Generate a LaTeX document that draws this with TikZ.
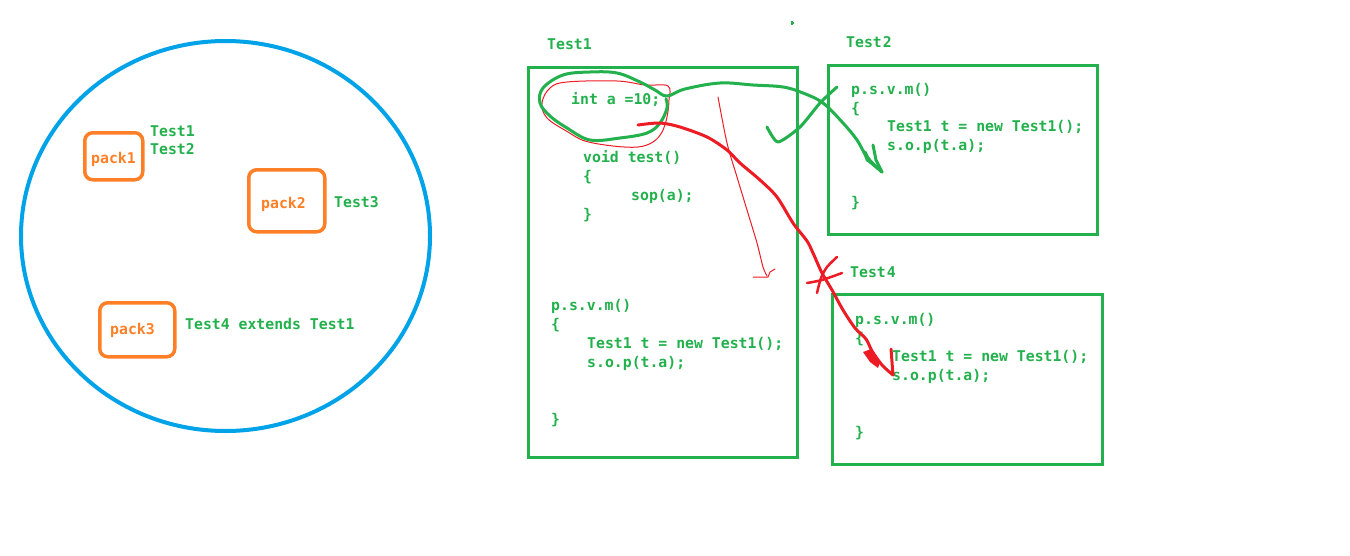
\documentclass[tikz,border=0pt]{standalone}
\usepackage{fontspec}
\newfontfamily\codefont{DejaVu Sans Mono Bold}
\usetikzlibrary{shapes.geometric}
\definecolor{pgreen}{RGB}{34,177,76}
\definecolor{porange}{RGB}{255,127,39}
\definecolor{pblue}{RGB}{0,162,232}
\definecolor{pred}{RGB}{237,28,36}
\tikzset{
  code/.style={font=\codefont\fontsize{14.8}{19}\selectfont, text=pgreen, anchor=base west, inner sep=0pt},
  pk/.style={code, text=porange},
  gbox/.style={draw=pgreen, line width=3pt, inner sep=0pt, anchor=north west},
  obox/.style={draw=porange, line width=3.5pt, rounded corners=8pt, inner sep=0pt, anchor=north west},
  pen/.style={line cap=round, line join=round},
  gpen/.style={pen, draw=pgreen, line width=3pt},
  rpen/.style={pen, draw=pred, line width=3pt},
  thinred/.style={pen, draw=pred, line width=1pt},
}
\begin{document}
\begin{tikzpicture}[x=1pt,y=-1pt]
\useasboundingbox[fill=white] (0,0) rectangle (1350,555);

% ---- left: circle with packages ----
\node (world) [draw=pblue, line width=4pt, ellipse, inner sep=0pt, minimum width=409pt, minimum height=390pt] at (225.5,236) {};
\node (pack1box) [obox, minimum width=58pt, minimum height=47pt] at (83,131) {};
\node (pack2box) [obox, minimum width=76pt, minimum height=62pt] at (247,168) {};
\node (pack3box) [obox, minimum width=75pt, minimum height=54pt] at (98,301) {};
\node (pack1) [pk] at (91,163) {pack1};
\node (pack2) [pk] at (261,208) {pack2};
\node (pack3) [pk] at (110,334) {pack3};
\node (l1) [code] at (150,136) {Test1};
\node (l2) [code] at (150,154) {Test2};
\node (l3) [code] at (334,207) {Test3};
\node (l4) [code] at (185,329) {Test4 extends Test1};

% ---- Test1 ----
\node (box1) [gbox, minimum width=269pt, minimum height=390pt] at (527,66) {};
\node (t1) [code] at (547,49) {Test1};
\node (inta) [code] at (571,104) {int a =10;};
\node (void) [code] at (583,162) {void test()};
\node (b1o) [code] at (583,181) {\{};
\node (sop) [code] at (631,200) {sop(a);};
\node (b1c) [code] at (583,219) {\}};
\node (m1) [code] at (551,310) {p.s.v.m()};
\node (m1o) [code] at (551,329) {\{};
\node (m1a) [code] at (587,348) {Test1 t = new Test1();};
\node (m1b) [code] at (587,367) {s.o.p(t.a);};
\node (m1c) [code] at (551,424) {\}};

% ---- Test2 ----
\node (box2) [gbox, minimum width=269pt, minimum height=169pt] at (827,64) {};
\node (t2) [code] at (846,47) {Test\kern1pt2};
\node (m2) [code] at (851,94) {p.s.v.m()};
\node (m2o) [code] at (851,113) {\{};
\node (m2a) [code] at (887,131) {Test1 t = new Test1();};
\node (m2b) [code] at (887,150) {s.o.p(t.a);};
\node (m2c) [code] at (851,207) {\}};

% ---- Test4 ----
\node (box4) [gbox, minimum width=270pt, minimum height=170pt] at (831,293) {};
\node (t4) [code] at (850,277) {Test\kern1pt4};
\node (m4) [code] at (855,324) {p.s.v.m()};
\node (m4o) [code] at (855,343) {\{};
\node (m4a) [code] at (892,361) {Test1 t = new Test1();};
\node (m4b) [code] at (892,380) {s.o.p(t.a);};
\node (m4c) [code] at (855,437) {\}};

% small dot at top
\fill[pgreen] (790.5,22) rectangle (793.5,24);
\fill[pgreen] (791,21) rectangle (793,25);

% ---- hand-drawn marks ----
\coordinate (gstart) at (666,99);
\coordinate (gend) at (882,172);
\coordinate (rstart) at (638,125);
\coordinate (rend) at (893,375);

% thin red loop around int a
\draw[thinred] plot[smooth cycle, tension=0.6] coordinates {(550,88) (567,82) (617,81) (645,85) (668,86) (669,100) (667,117) (662,132) (653,142) (638,147) (613,146) (585,141) (568,132) (547,118) (542,103)};

% green loop + arrow to Test2
\draw[gpen] plot[smooth, tension=0.6] coordinates {(gstart) (667,108) (660,123) (647,133) (620,138) (590,140) (567,128) (550,116) (540,103) (543,88) (563,75) (590,72) (617,73) (640,82) (655,90) (667,96) (685,89) (720,83) (753,85) (783,87) (803,93) (823,103) (843,123) (857,140) (867,157) (gend)};
\draw[gpen] (865,152) -- (870,162) -- (gend);
\draw[gpen] (873,145) -- (876,160) -- (gend);
\fill[pgreen] (863,153) -- (870,158) -- (874,166) -- (866,161) -- cycle;
% green check stroke
\draw[gpen] plot[smooth, tension=0.4] coordinates {(767,127) (778,142) (800,127) (820,103) (837,87)};

% thin red arrow
\draw[thinred] plot[smooth, tension=0.5] coordinates {(718,97) (727,143) (737,177) (747,210) (757,243) (763,267) (767,276)};
\draw[thinred] (753,277) -- (768,277) -- (770,272) -- (775,269);

% thick red arrow to Test4
\draw[rpen] plot[smooth, tension=0.5] coordinates {(rstart) (660,123) (680,127) (707,137) (727,150) (740,163) (760,180) (777,197) (793,223) (807,241) (813,253) (822,273) (832,290) (843,310) (855,328) (866,339) (872,351) (882,365) (rend)};
\draw[rpen] (891,349) -- (rend);
\fill[pred] (863,352) -- (871,349) -- (880,362) -- (878,368) -- (870,362) -- cycle;
% red star
\draw[rpen, line width=2.5pt] plot[smooth, tension=0.5] coordinates {(837,257) (827,267) (821,278) (817,293)};
\draw[rpen, line width=2.5pt] plot[smooth, tension=0.5] coordinates {(807,283) (822,280) (842,273)};
\end{tikzpicture}
\end{document}
